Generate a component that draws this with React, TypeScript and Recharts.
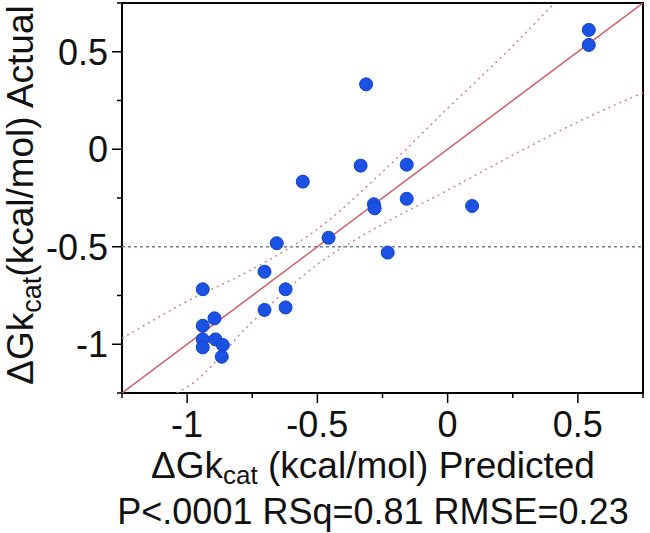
import { ScatterChart, Scatter, XAxis, YAxis, ReferenceLine, ReferenceArea, Label } from 'recharts';

const predicted = [
  0.542, 0.542, -0.313, -0.334, -0.157, -0.556, -0.157, -0.283, -0.28, 0.094, -0.457, -0.656, -0.23,
  -0.703, -0.94, -0.622, -0.703, -0.622, -0.895, -0.94, -0.94, -0.94, -0.891, -0.863, -0.867,
];
const actual = [
  0.612, 0.535, 0.333, -0.084, -0.079, -0.166, -0.254, -0.282, -0.303, -0.291, -0.454, -0.482, -0.53,
  -0.628, -0.718, -0.718, -0.824, -0.811, -0.867, -0.905, -0.975, -1.016, -0.975, -1.004, -1.064,
];

// fit line and confidence curves
const fitX = [-1.25, 0.75];
const fitY = [-1.25, 0.75];
const upperX = [-1.25, -1.0, -0.75, -0.5, -0.25, 0, 0.25, 0.41];
const upperY = [-0.97, -0.78, -0.615, -0.41, -0.116, 0.21, 0.53, 0.75];
const lowerX = [-1.04, -1.0, -0.75, -0.5, -0.25, 0, 0.25, 0.5, 0.75];
const lowerY = [-1.25, -1.22, -0.885, -0.59, -0.385, -0.21, -0.03, 0.14, 0.29];

const xTicks = [-1.25, -1, -0.75, -0.5, -0.25, 0, 0.25, 0.5, 0.75];
const yTicks = [-1.25, -1, -0.75, -0.5, -0.25, 0, 0.25, 0.5, 0.75];
const meanLine = -0.5;

const toPts = (xs: number[], ys: number[]) => xs.map((x, i) => ({ x, y: ys[i] }));
const points = toPts(predicted, actual);
const fit = toPts(fitX, fitY);
const upper = toPts(upperX, upperY);
const lower = toPts(lowerX, lowerY);

const FONT = '"Liberation Sans", Arial, sans-serif';
const PLOT_LEFT = 122;
const PLOT_BOTTOM = 393;

const isMajor = (v: number) => Number.isInteger(v * 2);

const XTick = ({ x, payload }: any) => {
  const v = payload.value;
  return (
    <g>
      <line x1={x} x2={x} y1={PLOT_BOTTOM} y2={PLOT_BOTTOM + (isMajor(v) ? 10 : 5)} stroke="#000" strokeWidth={1.5} />
      {isMajor(v) && (
        <text x={x} y={437} textAnchor="middle" fontSize={36} fontFamily={FONT} fill="#111">
          {String(v)}
        </text>
      )}
    </g>
  );
};

const YTick = ({ y, payload }: any) => {
  const v = payload.value;
  return (
    <g>
      <line x1={PLOT_LEFT} x2={PLOT_LEFT - (isMajor(v) ? 10 : 5)} y1={y} y2={y} stroke="#000" strokeWidth={1.5} />
      {isMajor(v) && (
        <text x={108} y={y + 13} textAnchor="end" fontSize={36} fontFamily={FONT} fill="#111">
          {String(v)}
        </text>
      )}
    </g>
  );
};

const Dot = ({ cx, cy }: any) => <circle cx={cx} cy={cy} r={6.5} fill="#1b52e4" stroke="#1340c4" strokeWidth={1} />;
const NoDot = () => <g />;

export default function App() {
  return (
    <div style={{ position: 'absolute', left: 0, top: 0, background: '#fff' }}>
      <ScatterChart width={650} height={533} margin={{ top: 3, right: 7, bottom: 100, left: 0 }}>
        <XAxis
          type="number"
          dataKey="x"
          domain={[-1.25, 0.75]}
          ticks={xTicks}
          interval={0}
          tick={<XTick />}
          tickLine={false}
          axisLine={false}
          height={40}
          allowDataOverflow
        >
          <Label
            content={() => (
              <g fontFamily={FONT} fill="#111">
                <text x={373} y={478} textAnchor="middle" fontSize={37}>
                  ΔGk<tspan fontSize={26} dy={6}>cat</tspan>
                  <tspan dy={-6}> (kcal/mol) Predicted</tspan>
                </text>
                <text x={373} y={524} textAnchor="middle" fontSize={36}>
                  P&lt;.0001 RSq=0.81 RMSE=0.23
                </text>
              </g>
            )}
          />
        </XAxis>
        <YAxis
          type="number"
          dataKey="y"
          domain={[-1.25, 0.75]}
          ticks={yTicks}
          interval={0}
          tick={<YTick />}
          tickLine={false}
          axisLine={false}
          width={122}
          allowDataOverflow
        >
          <Label
            content={() => (
              <text transform="translate(33,195) rotate(-90)" textAnchor="middle" fontSize={37} fontFamily={FONT} fill="#111">
                ΔGk<tspan fontSize={27} dy={8}>cat</tspan>
                <tspan dy={-8}>(kcal/mol) Actual</tspan>
              </text>
            )}
          />
        </YAxis>
        <ReferenceLine y={meanLine} stroke="#6f7f9c" strokeWidth={1.5} strokeDasharray="3 3" />
        <Scatter
          data={upper}
          shape={<NoDot />}
          line={{ stroke: '#c7868a', strokeWidth: 1.5, strokeDasharray: '2 4' }}
          lineJointType="monotoneX"
          isAnimationActive={false}
        />
        <Scatter
          data={lower}
          shape={<NoDot />}
          line={{ stroke: '#c7868a', strokeWidth: 1.5, strokeDasharray: '2 4' }}
          lineJointType="monotoneX"
          isAnimationActive={false}
        />
        <Scatter data={fit} shape={<NoDot />} line={{ stroke: '#d0646c', strokeWidth: 1.5 }} isAnimationActive={false} />
        <Scatter data={points} shape={<Dot />} isAnimationActive={false} />
        <ReferenceArea x1={-1.25} x2={0.75} y1={-1.25} y2={0.75} fill="none" stroke="#000" strokeWidth={2} />
      </ScatterChart>
    </div>
  );
}
